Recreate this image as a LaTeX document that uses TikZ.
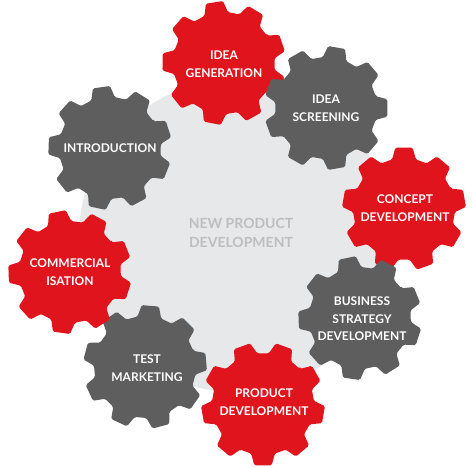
\documentclass[tikz,border=0pt]{standalone}
\usepackage{fontspec}
\setmainfont{Lato}
\definecolor{gearred}{HTML}{E0141C}
\definecolor{geargrey}{HTML}{5E5E5E}
\definecolor{bglight}{HTML}{E7E8EA}
\definecolor{centertext}{HTML}{BDBEC0}
\newcommand\gearshape[4]{%
  \fill[#3, rounded corners=1.5pt, shift={(#1,#2)}, rotate=#4]
    ({-13.5}:51) \foreach \k in {0,...,8} {
      -- ({\k*40-13.5}:51) -- ({\k*40-8}:62) -- ({\k*40+8}:62) -- ({\k*40+13.5}:51)
    } -- cycle;%
}
\begin{document}
\begin{tikzpicture}[x=1pt,y=-1pt,
  gearlabel/.style={text=white,font=\bfseries\fontsize{12}{17.5}\selectfont,align=center,inner sep=0pt},
  centerlabel/.style={text=centertext,font=\bfseries\fontsize{14}{19.5}\selectfont,align=center,inner sep=0pt}]
\useasboundingbox (0,0) rectangle (472,468);
\fill[bglight] (235,236) circle (156);
\gearshape{224}{63}{gearred}{19}
\gearshape{326}{108}{geargrey}{0}
\gearshape{404}{209}{gearred}{10}
\gearshape{360}{318}{geargrey}{22}
\gearshape{263}{404}{gearred}{30}
\gearshape{145}{367}{geargrey}{5}
\gearshape{70}{272}{gearred}{22}
\gearshape{110}{148}{geargrey}{18}
\node[centerlabel] (npd) at (241,233) {NEW PRODUCT\\DEVELOPMENT};
\node[gearlabel] (gen) at (224,64) {IDEA\\GENERATION};
\node[gearlabel] (scr) at (326,108) {IDEA\\SCREENING};
\node[gearlabel] (con) at (405,208) {CONCEPT\\DEVELOPMENT};
\node[gearlabel] (bus) at (362,319) {BUSINESS\\STRATEGY\\DEVELOPMENT};
\node[gearlabel] (pro) at (264,402) {PRODUCT\\DEVELOPMENT};
\node[gearlabel] (tes) at (147,368) {TEST\\MARKETING};
\node[gearlabel] (com) at (70,272) {COMMERCIAL\\ISATION};
\node[gearlabel] (int) at (110,148) {INTRODUCTION};
\end{tikzpicture}
\end{document}
